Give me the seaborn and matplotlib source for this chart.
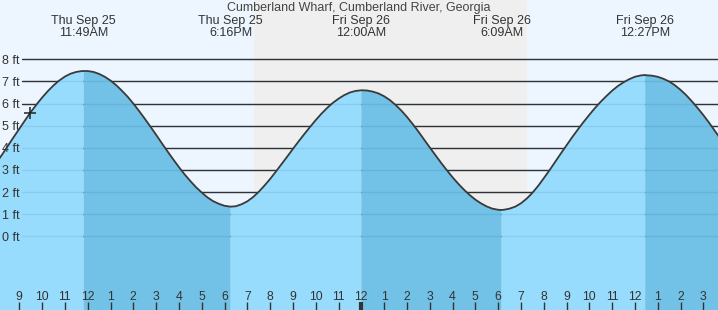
import matplotlib
matplotlib.use("Agg")
import numpy as np
import pandas as pd
import matplotlib.pyplot as plt
import matplotlib.transforms as mtransforms
import seaborn as sns

# ---------------- data ----------------
title = "Cumberland Wharf, Cumberland River, Georgia"

# sample times: every quarter hour, in hours since Thu Sep 25 00:00
hours = list(np.arange(8.0, 40.001, 0.25))
# water level (ft) at those times
heights = [3.33, 3.70, 4.09, 4.48, 4.86, 5.24, 5.61, 5.95,
           6.27, 6.56, 6.82, 7.04, 7.22, 7.35, 7.43, 7.47,
           7.47, 7.43, 7.34, 7.21, 7.04, 6.83, 6.58, 6.31,
           6.00, 5.67, 5.32, 4.96, 4.59, 4.21, 3.84, 3.48,
           3.13, 2.80, 2.50, 2.22, 1.98, 1.76, 1.59, 1.47,
           1.38, 1.34, 1.36, 1.45, 1.58, 1.77, 2.01, 2.29,
           2.59, 2.92, 3.26, 3.60, 3.95, 4.29, 4.62, 4.94,
           5.25, 5.54, 5.80, 6.03, 6.22, 6.38, 6.50, 6.57,
           6.60, 6.59, 6.54, 6.46, 6.33, 6.16, 5.94, 5.69,
           5.40, 5.08, 4.74, 4.38, 4.02, 3.67, 3.32, 2.99,
           2.67, 2.38, 2.11, 1.87, 1.66, 1.49, 1.35, 1.25,
           1.20, 1.20, 1.25, 1.34, 1.49, 1.70, 1.96, 2.27,
           2.62, 2.98, 3.36, 3.74, 4.11, 4.48, 4.83, 5.17,
           5.49, 5.80, 6.08, 6.34, 6.58, 6.79, 6.96, 7.10,
           7.21, 7.27, 7.28, 7.26, 7.21, 7.12, 7.00, 6.83,
           6.62, 6.38, 6.10, 5.80, 5.48, 5.14, 4.78, 4.41,
           4.02]

event_hours = [11.817, 18.267, 24.0, 30.15, 36.45]
event_heights = [7.47, 1.34, 6.60, 1.19, 7.29]
event_types = ["H", "L", "H", "L", "H"]
event_days = ["Thu Sep 25", "Thu Sep 25", "Fri Sep 26", "Fri Sep 26", "Fri Sep 26"]
event_times = ["11:49AM", "6:16PM", "12:00AM", "6:09AM", "12:27PM"]

night_start, night_end = 19.28, 31.25
now_hour, now_height = 9.47, 5.56

hour_ticks = [9, 10, 11, 12, 13, 14, 15, 16, 17, 18, 19, 20, 21, 22, 23, 24,
              25, 26, 27, 28, 29, 30, 31, 32, 33, 34, 35, 36, 37, 38, 39]
hour_labels = ["9", "10", "11", "12", "1", "2", "3", "4", "5", "6", "7", "8",
               "9", "10", "11", "12", "1", "2", "3", "4", "5", "6", "7", "8",
               "9", "10", "11", "12", "1", "2", "3"]
midnight_hour = 24
ft_ticks = [0, 1, 2, 3, 4, 5, 6, 7, 8]
ft_labels = ["0 ft", "1 ft", "2 ft", "3 ft", "4 ft", "5 ft", "6 ft", "7 ft", "8 ft"]

# ---------------- style ----------------
sns.set_style("white")
plt.rcParams["font.family"] = ["Liberation Sans", "DejaVu Sans"]

DAY_BG = "#EDF6FE"
NIGHT_BG = "#EFEFEF"
RISE = "#97DCFD"
FALL = "#72C1E6"
INK = "#333333"

fig = plt.figure(figsize=(7.18, 3.10), dpi=100)
ax = fig.add_axes([0, 0, 1, 1])
ax.set_facecolor(DAY_BG)
for s in ax.spines.values():
    s.set_visible(False)

xmin, xmax = 8.1535, 39.6447
ymin, ymax = -3.33, 10.68
ax.set_xlim(xmin, xmax)
ax.set_ylim(ymin, ymax)

# night band
ax.axvspan(night_start, night_end, color=NIGHT_BG, lw=0, zorder=0.1)

# grid lines (dark, behind the water)
for v in ft_ticks:
    ax.axhline(v, xmin=22 / 718, xmax=1, color=INK, lw=1.0, zorder=0.5)

# curve data
df = pd.DataFrame({"t": hours + event_hours, "h": heights + event_heights})
df = df.sort_values("t").drop_duplicates("t").reset_index(drop=True)
t = df["t"].to_numpy()
h = df["h"].to_numpy()

# falling (high -> low) and rising masks
fall_in = np.zeros(len(t), bool)
fall_strict = np.zeros(len(t), bool)
for i, typ in enumerate(event_types):
    if typ == "H":
        start = event_hours[i]
        end = event_hours[i + 1] if i + 1 < len(event_hours) else 1e9
        fall_in |= (t >= start) & (t <= end)
        fall_strict |= (t > start) & (t < end)
rise = ~fall_strict

ax.fill_between(t, h, ymin - 1, where=rise, color=RISE, lw=0, zorder=1)
ax.fill_between(t, h, ymin - 1, where=fall_in, color=FALL, lw=0, zorder=1)

# faint grid lines visible through the water
for v in ft_ticks:
    ax.axhline(v, xmin=22 / 718, xmax=1, color=(0, 0.2, 0.4, 0.09), lw=1.0, zorder=1.1)

sns.lineplot(data=df, x="t", y="h", ax=ax, color="#3a3a3a", lw=1.3, zorder=2,
             solid_joinstyle="round", solid_capstyle="round")
ax.plot([now_hour], [now_height], marker="+", ms=8, mew=1.1, color="#222222", zorder=2.1)

ax.set_xlabel("")
ax.set_ylabel("")

# x ticks (hours), inside
ax.set_xticks(hour_ticks)
ax.set_xticklabels(hour_labels)
ax.tick_params(axis="x", direction="in", length=6, width=1.0, color=INK,
               labelcolor=INK, labelsize=8.8, pad=-13.5, bottom=True)
for tk, hv in zip(ax.xaxis.get_major_ticks(), hour_ticks):
    if hv == midnight_hour:
        tk.tick1line.set_markeredgewidth(3)

# y ticks (ft), inside, left aligned
ax.set_yticks(ft_ticks)
ax.set_yticklabels(ft_labels)
ax.tick_params(axis="y", direction="in", length=0, labelcolor=INK,
               labelsize=9, pad=-1.5, left=True)
for lab in ax.get_yticklabels():
    lab.set_ha("left")
ax.set_axisbelow(False)

# labels
trans = mtransforms.blended_transform_factory(ax.transData, ax.transAxes)
for eh, d, tm in zip(event_hours, event_days, event_times):
    ax.text(eh, 1 - 24 / 310, d, transform=trans, ha="center", va="baseline",
            fontsize=9, color=INK, zorder=5)
    ax.text(eh, 1 - 36 / 310, tm, transform=trans, ha="center", va="baseline",
            fontsize=9, color=INK, zorder=5)
ax.text(0.5, 1 - 11.5 / 310, title, transform=ax.transAxes, ha="center",
        va="baseline", fontsize=9, color="#444444", zorder=5)

fig.savefig("out.png", dpi=100)
